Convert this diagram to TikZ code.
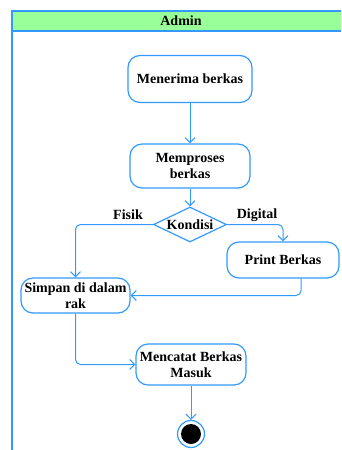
\documentclass[tikz,border=0pt]{standalone}
\usepackage{fontspec}
\setmainfont{Liberation Serif}
\usetikzlibrary{shapes.geometric,arrows.meta}
\definecolor{ublue}{RGB}{51,153,255}
\definecolor{ugreen}{RGB}{153,255,153}
\begin{document}
\begin{tikzpicture}[x=1pt,y=-1pt,
  txt/.style={font=\bfseries\fontsize{14}{16}\selectfont},
  act/.style={txt, draw=ublue, line width=1.2pt, rounded corners=12pt, align=center, inner sep=1pt},
  flow/.style={draw=ublue, line width=1pt, -{Straight Barb[length=5pt,width=10pt]}, rounded corners=5pt},
  lane/.style={draw=ublue, line width=1.2pt}]
\useasboundingbox (0,0) rectangle (341,450);
% swimlane
\fill[ugreen] (12,11) rectangle (341,31);
\draw[lane] (341,11) -- (12,11) -- (12,450);
\draw[lane] (12,31) -- (341,31);
\node[txt] (lanetitle) at (181,21) {Admin};
% nodes
\node[act, minimum width=124pt, minimum height=47pt] (n1) at (190,79) {Menerima berkas};
\node[act, minimum width=120pt, minimum height=44pt] (n2) at (190,166) {Memproses\\berkas};
\node[txt, draw=ublue, line width=1.2pt, shape=diamond, aspect=2, inner sep=0pt, minimum width=73pt, minimum height=35pt] (kond) at (190,224.5) {Kondisi};
\node[act, minimum width=112pt, minimum height=36pt] (print) at (283,260) {Print Berkas};
\node[act, minimum width=109pt, minimum height=35pt] (simpan) at (75.5,295.5) {Simpan di dalam\\rak};
\node[act, minimum width=110pt, minimum height=41pt] (catat) at (191,364.5) {Mencatat Berkas\\Masuk};
\node[circle, draw=ublue, line width=1.2pt, minimum size=27pt, inner sep=0pt] (final) at (191,434) {};
\fill[black] (final.center) circle (10pt);
% connectors
\draw[flow] (n1) -- (n2);
\draw[flow] (n2) -- (kond);
\draw[flow] (kond.west) -| (simpan.north);
\draw[flow] (kond.east) -| (print.north);
\draw[flow] ([xshift=18pt]print.south) |- (simpan.east);
\draw[flow] (simpan.south) |- (catat.west);
\draw[flow] (catat) -- (final);
% labels
\node[txt] (lfisik) at (128,215) {Fisik};
\node[txt] (ldigital) at (257,215) {Digital};
\end{tikzpicture}
\end{document}
